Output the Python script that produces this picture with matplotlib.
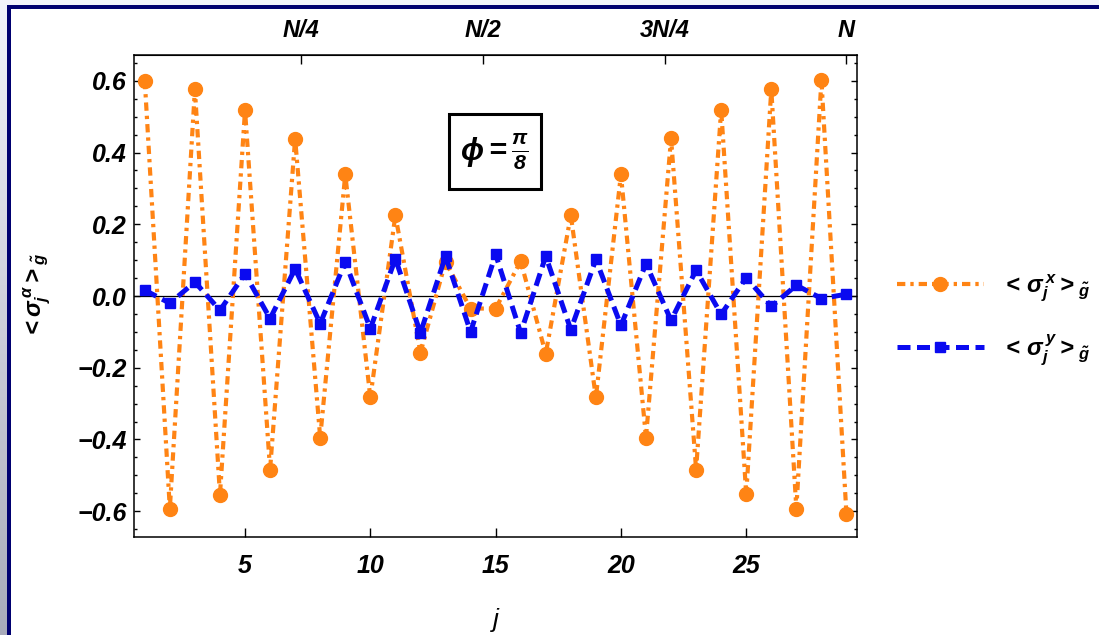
import numpy as np
import matplotlib
matplotlib.use("Agg")
import matplotlib.pyplot as plt
from matplotlib.patches import Rectangle
from matplotlib.ticker import MultipleLocator, FuncFormatter

plt.rcParams['font.family'] = ['Liberation Sans', 'DejaVu Sans']
plt.rcParams['font.weight'] = 'bold'
plt.rcParams['font.style'] = 'italic'
plt.rcParams['mathtext.fontset'] = 'custom'
plt.rcParams['mathtext.rm'] = 'Liberation Sans:bold:italic'
plt.rcParams['mathtext.it'] = 'Liberation Sans:bold:italic'
plt.rcParams['mathtext.bf'] = 'Liberation Sans:bold:italic'

# site-resolved expectation values along the chain
n_sites = 29
sites = np.arange(1, n_sites + 1)
sigma_x = [0.600, -0.593, 0.576, -0.554, 0.518, -0.484, 0.439, -0.395, 0.339, -0.283,
           0.225, -0.158, 0.095, -0.035, -0.035, 0.097, -0.161, 0.225, -0.283, 0.339,
           -0.395, 0.440, -0.484, 0.520, -0.553, 0.576, -0.593, 0.602, -0.609]
sigma_y = [0.016, -0.020, 0.039, -0.040, 0.062, -0.063, 0.076, -0.077, 0.095, -0.091,
           0.104, -0.103, 0.111, -0.100, 0.116, -0.103, 0.111, -0.094, 0.102, -0.082,
           0.090, -0.068, 0.072, -0.051, 0.051, -0.029, 0.030, -0.007, 0.005]

top_ticks = [n_sites / 4, n_sites / 2, 3 * n_sites / 4, n_sites]
top_labels = ['N/4', 'N/2', '3N/4', 'N']
bottom_ticks = [5, 10, 15, 20, 25]

orange = '#FF8414'
blue = '#0A0AF0'

W, H = 1099, 635
fig = plt.figure(figsize=(W / 100, H / 100), dpi=100)

# framed backdrop: grey gradient strip, white panel, navy edge
bg = fig.add_axes([0, 0, 1, 1], zorder=-10)
grad = np.linspace(0, 1, 256)[:, None]
c0 = np.array([0.95, 0.955, 0.985])
c1 = np.array([0.66, 0.67, 0.73])
img = c0[None, None, :] * (1 - grad[..., None]) + c1[None, None, :] * grad[..., None]
bg.imshow(img, extent=[0, W, H, 0], aspect='auto')
bg.add_patch(Rectangle((11, 9), W - 11, H - 9, facecolor='white', edgecolor='none'))
bg.add_patch(Rectangle((7, 5), W - 7, 4, facecolor='#000070', edgecolor='none'))
bg.add_patch(Rectangle((7, 5), 4, H - 5, facecolor='#000070', edgecolor='none'))
bg.set_xlim(0, W)
bg.set_ylim(H, 0)
bg.axis('off')

ax = fig.add_axes([134 / W, 1 - 537 / H, 723 / W, 482 / H])
ax.axhline(0, color='black', lw=0.9, zorder=1)

ax.plot(sites, sigma_x, color=orange, lw=3, dashes=(2.0, 1.2, 0.8, 1.2),
        marker='o', ms=10, zorder=2, label=r'$<\,\sigma_j^{\,x}>_{\tilde{g}}$')
ax.plot(sites, sigma_y, color=blue, lw=3.6, dashes=(2.6, 1.3),
        marker='s', ms=6.5, zorder=3, label=r'$<\,\sigma_j^{\,y}>_{\tilde{g}}$')

ax.set_xlim(0.57, 29.42)
ax.set_ylim(-0.672, 0.672)
ax.set_xticks(bottom_ticks)
ax.yaxis.set_major_locator(MultipleLocator(0.2))
ax.yaxis.set_minor_locator(MultipleLocator(0.05))
ax.yaxis.set_major_formatter(FuncFormatter(lambda v, p: f'{v:.1f}'.replace('-', '\u2212')))
ax.tick_params(axis='x', which='major', direction='in', length=6.5, width=1,
               labelsize=18, pad=12)
ax.tick_params(axis='y', which='major', direction='in', length=4, width=1,
               labelsize=18, pad=5, right=True)
ax.tick_params(axis='y', which='minor', direction='in', length=2.5, width=1, right=True)
for s in ax.spines.values():
    s.set_linewidth(1.1)

top = ax.secondary_xaxis('top')
top.set_xticks(top_ticks)
top.set_xticklabels(top_labels)
top.tick_params(direction='in', length=6.5, width=1, labelsize=17, pad=9)

ax.set_xlabel('j', fontsize=19)
ax.xaxis.set_label_coords(0.5, -0.148)
ax.set_ylabel(r'$<\sigma_j^{\,\alpha}>_{\tilde{g}}$', fontsize=17, va='center')
ax.yaxis.set_label_coords(-0.133, 0.5)

# parameter box
ax.add_patch(Rectangle((0.4357, 0.722), 0.1272, 0.1556, transform=ax.transAxes,
                       facecolor='white', edgecolor='black', lw=2.2, zorder=5))
ax.text(0.4993, 0.80, r'$\phi=\frac{\pi}{8}$', transform=ax.transAxes,
        ha='center', va='center', fontsize=22, zorder=6)

fig.legend(loc='center left', bbox_to_anchor=(885 / W, 1 - 319.5 / H),
           frameon=False, fontsize=17, handlelength=3.7, numpoints=1,
           labelspacing=1.2, borderpad=0, handletextpad=0.7)

fig.savefig('out.png', dpi=100)
